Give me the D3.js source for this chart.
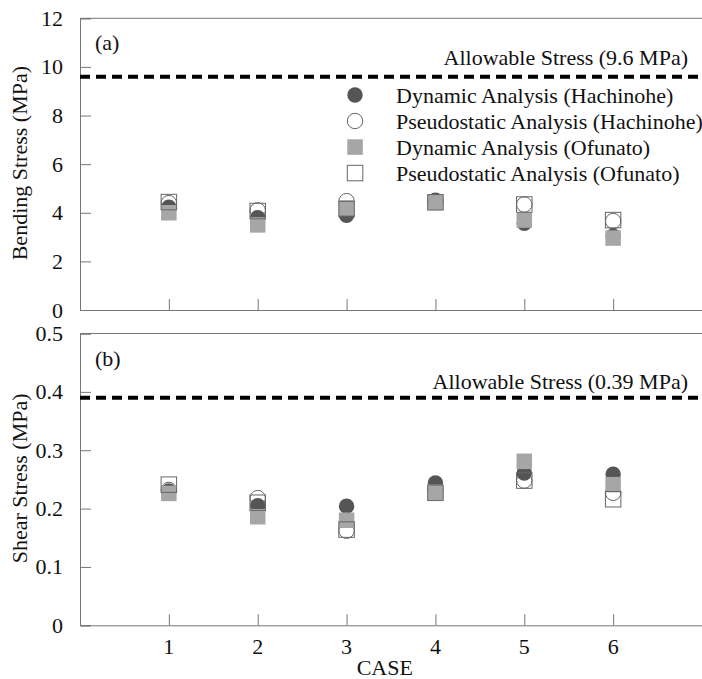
<!DOCTYPE html>
<html><head><meta charset="utf-8">
<script src="https://cdn.jsdelivr.net/npm/d3@7"></script>
</head><body style="margin:0;background:#fff">
<svg id="c" width="702" height="679"></svg>
<script>
const cases = [1,2,3,4,5,6];
const seriesNames = ["Dynamic Analysis (Hachinohe)","Pseudostatic Analysis (Hachinohe)","Dynamic Analysis (Ofunato)","Pseudostatic Analysis (Ofunato)"];
// Bending stress (MPa)
const bendDynHach = [4.23, 3.80, 3.90, 4.52, 3.57, 3.05];
const bendPseHach = [4.40, 4.10, 4.48, 4.45, 4.34, 3.66];
const bendDynOfu  = [4.00, 3.50, 4.20, 4.43, 3.70, 2.96];
const bendPseOfu  = [4.44, 4.07, 4.15, 4.43, 4.34, 3.70];
// Shear stress (MPa)
const shearDynHach = [0.230, 0.205, 0.204, 0.244, 0.261, 0.259];
const shearPseHach = [0.232, 0.218, 0.162, 0.232, 0.248, 0.227];
const shearDynOfu  = [0.226, 0.186, 0.180, 0.228, 0.281, 0.241];
const shearPseOfu  = [0.241, 0.210, 0.164, 0.227, 0.248, 0.216];
const bendTicks = [0,2,4,6,8,10,12];
const shearTicks = [0,0.1,0.2,0.3,0.4,0.5];
const bendAllow = 9.6, shearAllow = 0.39;

const FONT = "Liberation Serif";
const FS = 22;
const svg = d3.select("#c");
const x = d3.scaleLinear().domain([0,7]).range([80,702]);
const axisCol = "#777";

function txt(g){ return g.append("text").attr("font-family",FONT).attr("font-size",FS).attr("fill","#111"); }

function panel(opts){
  const y = d3.scaleLinear().domain([opts.ticks[0], opts.ticks[opts.ticks.length-1]]).range(opts.yr);
  const g = svg.append("g");
  g.append("line").attr("x1",x(0)).attr("x2",x(7)).attr("y1",y.range()[1]).attr("y2",y.range()[1]).attr("stroke",axisCol).attr("stroke-width",1);
  const ya = g.append("g").attr("transform",`translate(${x(0)},0)`)
    .call(d3.axisRight(y).tickValues(opts.ticks).tickSize(11).tickFormat(d=>""));
  ya.select(".domain").attr("stroke",axisCol);
  ya.selectAll(".tick line").attr("stroke",axisCol);
  opts.ticks.forEach(d=>{
    txt(g).attr("x",63).attr("y",y(d)+7.5).attr("text-anchor","end").text(d);
  });
  const xa = g.append("g").attr("transform",`translate(0,${y.range()[0]})`)
    .call(d3.axisTop(x).tickValues(cases).tickSize(11).tickFormat(d=>""));
  xa.select(".domain").attr("stroke",axisCol);
  xa.selectAll(".tick line").attr("stroke",axisCol);
  g.append("line").attr("x1",x(0)).attr("x2",x(7)).attr("y1",y(opts.allow)).attr("y2",y(opts.allow))
    .attr("stroke","#000").attr("stroke-width",4).attr("stroke-dasharray","10,6");
  txt(g).attr("x",688).attr("y",y(opts.allow)+opts.allowOff).attr("text-anchor","end").text(opts.allowText);
  txt(g).attr("x",95).attr("y",y.range()[1]+32).text(opts.label);
  const ym = (y.range()[0]+y.range()[1])/2 - 1;
  txt(g).attr("transform",`translate(27,${ym}) rotate(-90)`).attr("text-anchor","middle").text(opts.title);
  const r = 7.7, s = 15.5;
  g.selectAll(".oc").data(opts.pH).join("circle").attr("cx",(d,i)=>x(cases[i])).attr("cy",d=>y(d)).attr("r",r)
    .attr("fill","#fff").attr("stroke","#666").attr("stroke-width",1);
  g.selectAll(".dc").data(opts.dH).join("circle").attr("cx",(d,i)=>x(cases[i])).attr("cy",d=>y(d)).attr("r",r)
    .attr("fill","#555");
  g.selectAll(".gs").data(opts.dO).join("rect").attr("x",(d,i)=>x(cases[i])-s/2).attr("y",d=>y(d)-s/2).attr("width",s).attr("height",s)
    .attr("fill","#a6a6a6");
  g.selectAll(".os").data(opts.pO).join("rect").attr("x",(d,i)=>x(cases[i])-s/2).attr("y",d=>y(d)-s/2).attr("width",s).attr("height",s)
    .attr("fill","none").attr("stroke","#666").attr("stroke-width",1);
  return y;
}

panel({yr:[310,18.3], ticks:bendTicks, allow:bendAllow, allowOff:-12, allowText:"Allowable Stress (9.6 MPa)", label:"(a)", title:"Bending Stress (MPa)",
  dH:bendDynHach, pH:bendPseHach, dO:bendDynOfu, pO:bendPseOfu});
panel({yr:[625.3,333.5], ticks:shearTicks, allow:shearAllow, allowOff:-9, allowText:"Allowable Stress (0.39 MPa)", label:"(b)", title:"Shear Stress (MPa)",
  dH:shearDynHach, pH:shearPseHach, dO:shearDynOfu, pO:shearPseOfu});

cases.forEach(d=>{ txt(svg).attr("x",x(d)).attr("y",654).attr("text-anchor","middle").text(d); });
txt(svg).attr("x",x(3.43)).attr("y",675).attr("text-anchor","middle").text("CASE");

const leg = svg.append("g");
const ly = [95,121,147,173];
const kinds = ["dc","oc","gs","os"];
seriesNames.forEach((n,i)=>{
  const cy = ly[i], cx = 355;
  if(kinds[i]==="dc") leg.append("circle").attr("cx",cx).attr("cy",cy).attr("r",7.7).attr("fill","#555");
  if(kinds[i]==="oc") leg.append("circle").attr("cx",cx).attr("cy",cy).attr("r",7.7).attr("fill","#fff").attr("stroke","#666");
  if(kinds[i]==="gs") leg.append("rect").attr("x",cx-7.7).attr("y",cy-7.7).attr("width",15.5).attr("height",15.5).attr("fill","#a6a6a6");
  if(kinds[i]==="os") leg.append("rect").attr("x",cx-7.7).attr("y",cy-7.7).attr("width",15.5).attr("height",15.5).attr("fill","none").attr("stroke","#666");
  txt(leg).attr("x",396).attr("y",cy+7.5).text(n);
});
</script>
</body></html>
